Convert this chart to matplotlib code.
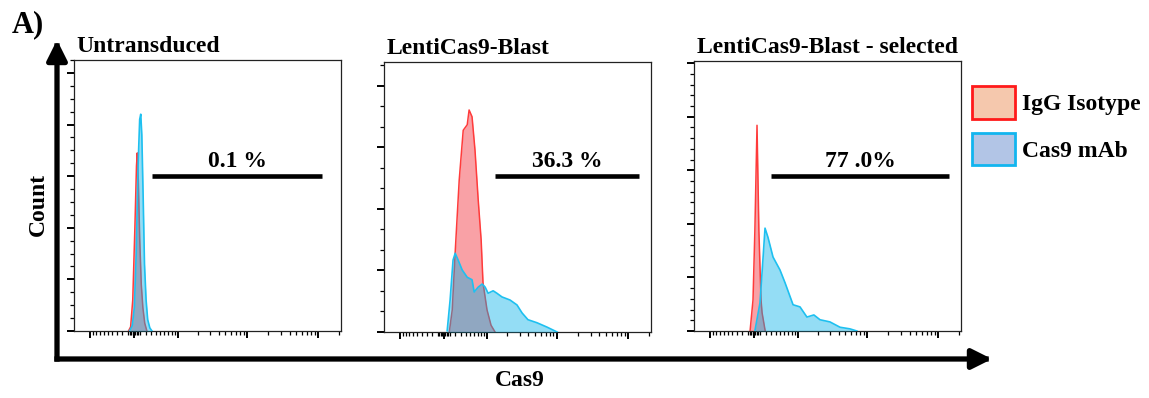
import numpy as np
import matplotlib.pyplot as plt
from matplotlib.patches import Patch
from matplotlib.ticker import MultipleLocator, FixedLocator

plt.rcParams["font.family"] = ["Liberation Serif", "DejaVu Serif"]
plt.rcParams["font.weight"] = "bold"

titles = ["Untransduced", "LentiCas9-Blast", "LentiCas9-Blast - selected"]
gate_labels = ["0.1 %", "36.3 %", "77 .0%"]

# x = display channel (0-1000 across each plot), y = count
iso1_x = [204, 212, 220, 228, 234, 237, 241, 246, 252, 258, 265, 273]
iso1_y = [0, 8, 60, 200, 320, 345, 290, 180, 90, 45, 15, 0]
cas1_x = [208, 218, 226, 233, 240, 246, 250, 254, 259, 264, 270, 276, 284, 292]
cas1_y = [0, 10, 45, 150, 320, 410, 420, 380, 260, 130, 60, 22, 6, 0]

iso2_x = [246, 257, 268, 283, 298, 313, 320, 331, 342, 354, 365, 372, 387, 402, 417]
iso2_y = [0, 36, 130, 247, 328, 337, 361, 350, 296, 215, 150, 80, 36, 11, 0]
cas2_x = [238, 249, 260, 268, 279, 294, 313, 331, 339, 354, 369, 380, 391, 410,
          424, 443, 473, 499, 518, 540, 574, 611, 649]
cas2_y = [2, 52, 117, 128, 117, 101, 89, 85, 65, 73, 78, 73, 63, 67,
          63, 57, 52, 44, 31, 20, 15, 8, 0]

iso3_x = [210, 221, 228, 236, 243, 251, 255, 266, 267]
iso3_y = [0, 58, 188, 384, 188, 58, 34, 2, 0]
cas3_x = [228, 247, 258, 266, 277, 296, 322, 341, 371, 397, 423, 449, 472, 509,
          547, 584, 610]
cas3_y = [0, 52, 132, 192, 175, 138, 114, 90, 49, 45, 26, 30, 21, 17, 7, 4, 0]

iso_x = [iso1_x, iso2_x, iso3_x]
iso_y = [iso1_y, iso2_y, iso3_y]
cas_x = [cas1_x, cas2_x, cas3_x]
cas_y = [cas1_y, cas2_y, cas3_y]

gate_start = [292, 417, 288]
gate_end = [929, 955, 955]
gate_level = [300, 254, 289]

y_max = [525, 439, 504]
y_minor = [25, 100 / 3, 20]

W, H = 1149, 398
fig = plt.figure(figsize=(W / 100, H / 100), dpi=100)

# background layer in pixel coordinates for the big axis arrows
bg = fig.add_axes([0, 0, 1, 1])
bg.set_xlim(0, W)
bg.set_ylim(H, 0)
bg.axis("off")
arrow = dict(arrowstyle="-|>,head_length=0.6,head_width=0.3", lw=3.8,
             color="black", shrinkA=0, shrinkB=0, mutation_scale=20,
             capstyle="projecting")
bg.annotate("", xy=(57, 40), xytext=(57, 359), arrowprops=arrow)
bg.annotate("", xy=(992, 359), xytext=(57, 359), arrowprops=arrow)


# biexponential-like display of fluorescence values
def chan(v):
    return 224.7 + 115.7 * np.arcsinh(np.asarray(v, dtype=float) / 520)


major_vals = [-1000, 0, 1000, 10000, 100000]
minor_vals = (list(range(-900, -100, 100)) + list(range(-100, 101, 25))
              + list(range(200, 1000, 100)) + list(range(2000, 10000, 1000))
              + list(range(20000, 100000, 10000)) + [200000])

boxes = [(74, 60, 267, 271), (383.5, 62, 267.5, 270), (694, 61, 267, 270)]

for i, (l, t, w, h) in enumerate(boxes):
    ax = fig.add_axes([l / W, 1 - (t + h) / H, w / W, h / H])
    ax.fill_between(iso_x[i], iso_y[i], color="#f9a1a6", lw=0, zorder=1)
    ax.plot(iso_x[i], iso_y[i], color="#ff3b3b", lw=1.1, zorder=2)
    ax.fill_between(cas_x[i], cas_y[i], color="#00b0e8", alpha=0.42, lw=0, zorder=3)
    ax.plot(cas_x[i], cas_y[i], color="#1ec0f0", lw=1.2, zorder=4)

    ax.plot([gate_start[i], gate_end[i]], [gate_level[i]] * 2, color="black",
            lw=3.3, solid_capstyle="butt", zorder=5)
    ax.annotate(gate_labels[i], xy=((gate_start[i] + gate_end[i]) / 2, gate_level[i]),
                xytext=(0, 3), textcoords="offset points", ha="center", va="bottom",
                fontsize=17, fontweight="bold")
    ax.annotate(titles[i], xy=(0, 1), xycoords="axes fraction", xytext=(2, 5.5),
                textcoords="offset points", ha="left", va="baseline",
                fontsize=17, fontweight="bold")

    ax.set_xlim(0, 1000)
    ax.set_ylim(0, y_max[i])
    ax.xaxis.set_major_locator(FixedLocator(chan(major_vals)))
    ax.xaxis.set_minor_locator(FixedLocator(chan(minor_vals)))
    ax.yaxis.set_major_locator(MultipleLocator(100))
    ax.yaxis.set_minor_locator(MultipleLocator(y_minor[i]))
    ax.set_xticklabels([])
    ax.set_yticklabels([])
    ax.tick_params(which="major", direction="out", length=5, width=1.4, color="black")
    ax.tick_params(which="minor", direction="out", length=2.8, width=0.9, color="black")
    for s in ax.spines.values():
        s.set_linewidth(0.9)
        s.set_color("#222222")

fig.text(12 / W, 1 - 32 / H, "A)", fontsize=22, fontweight="bold", ha="left",
         va="baseline")
fig.text(38 / W, 1 - 204 / H, "Count", fontsize=17, fontweight="bold",
         rotation=90, ha="center", va="center")
fig.text(520 / W, 1 - 380 / H, "Cas9", fontsize=17, fontweight="bold",
         ha="center", va="center")

handles = [Patch(facecolor="#f5c8ad", edgecolor="#ff1a1a", lw=2),
           Patch(facecolor="#b2c5e6", edgecolor="#12b5ef", lw=2)]
fig.legend(handles, ["IgG Isotype", "Cas9 mAb"], loc="upper left",
           bbox_to_anchor=(972 / W, 1 - 86 / H), frameon=False, fontsize=17,
           handlelength=1.8, handleheight=1.75, handletextpad=0.3,
           labelspacing=0.6, borderpad=0, borderaxespad=0)

fig.savefig("out.png", dpi=100)
